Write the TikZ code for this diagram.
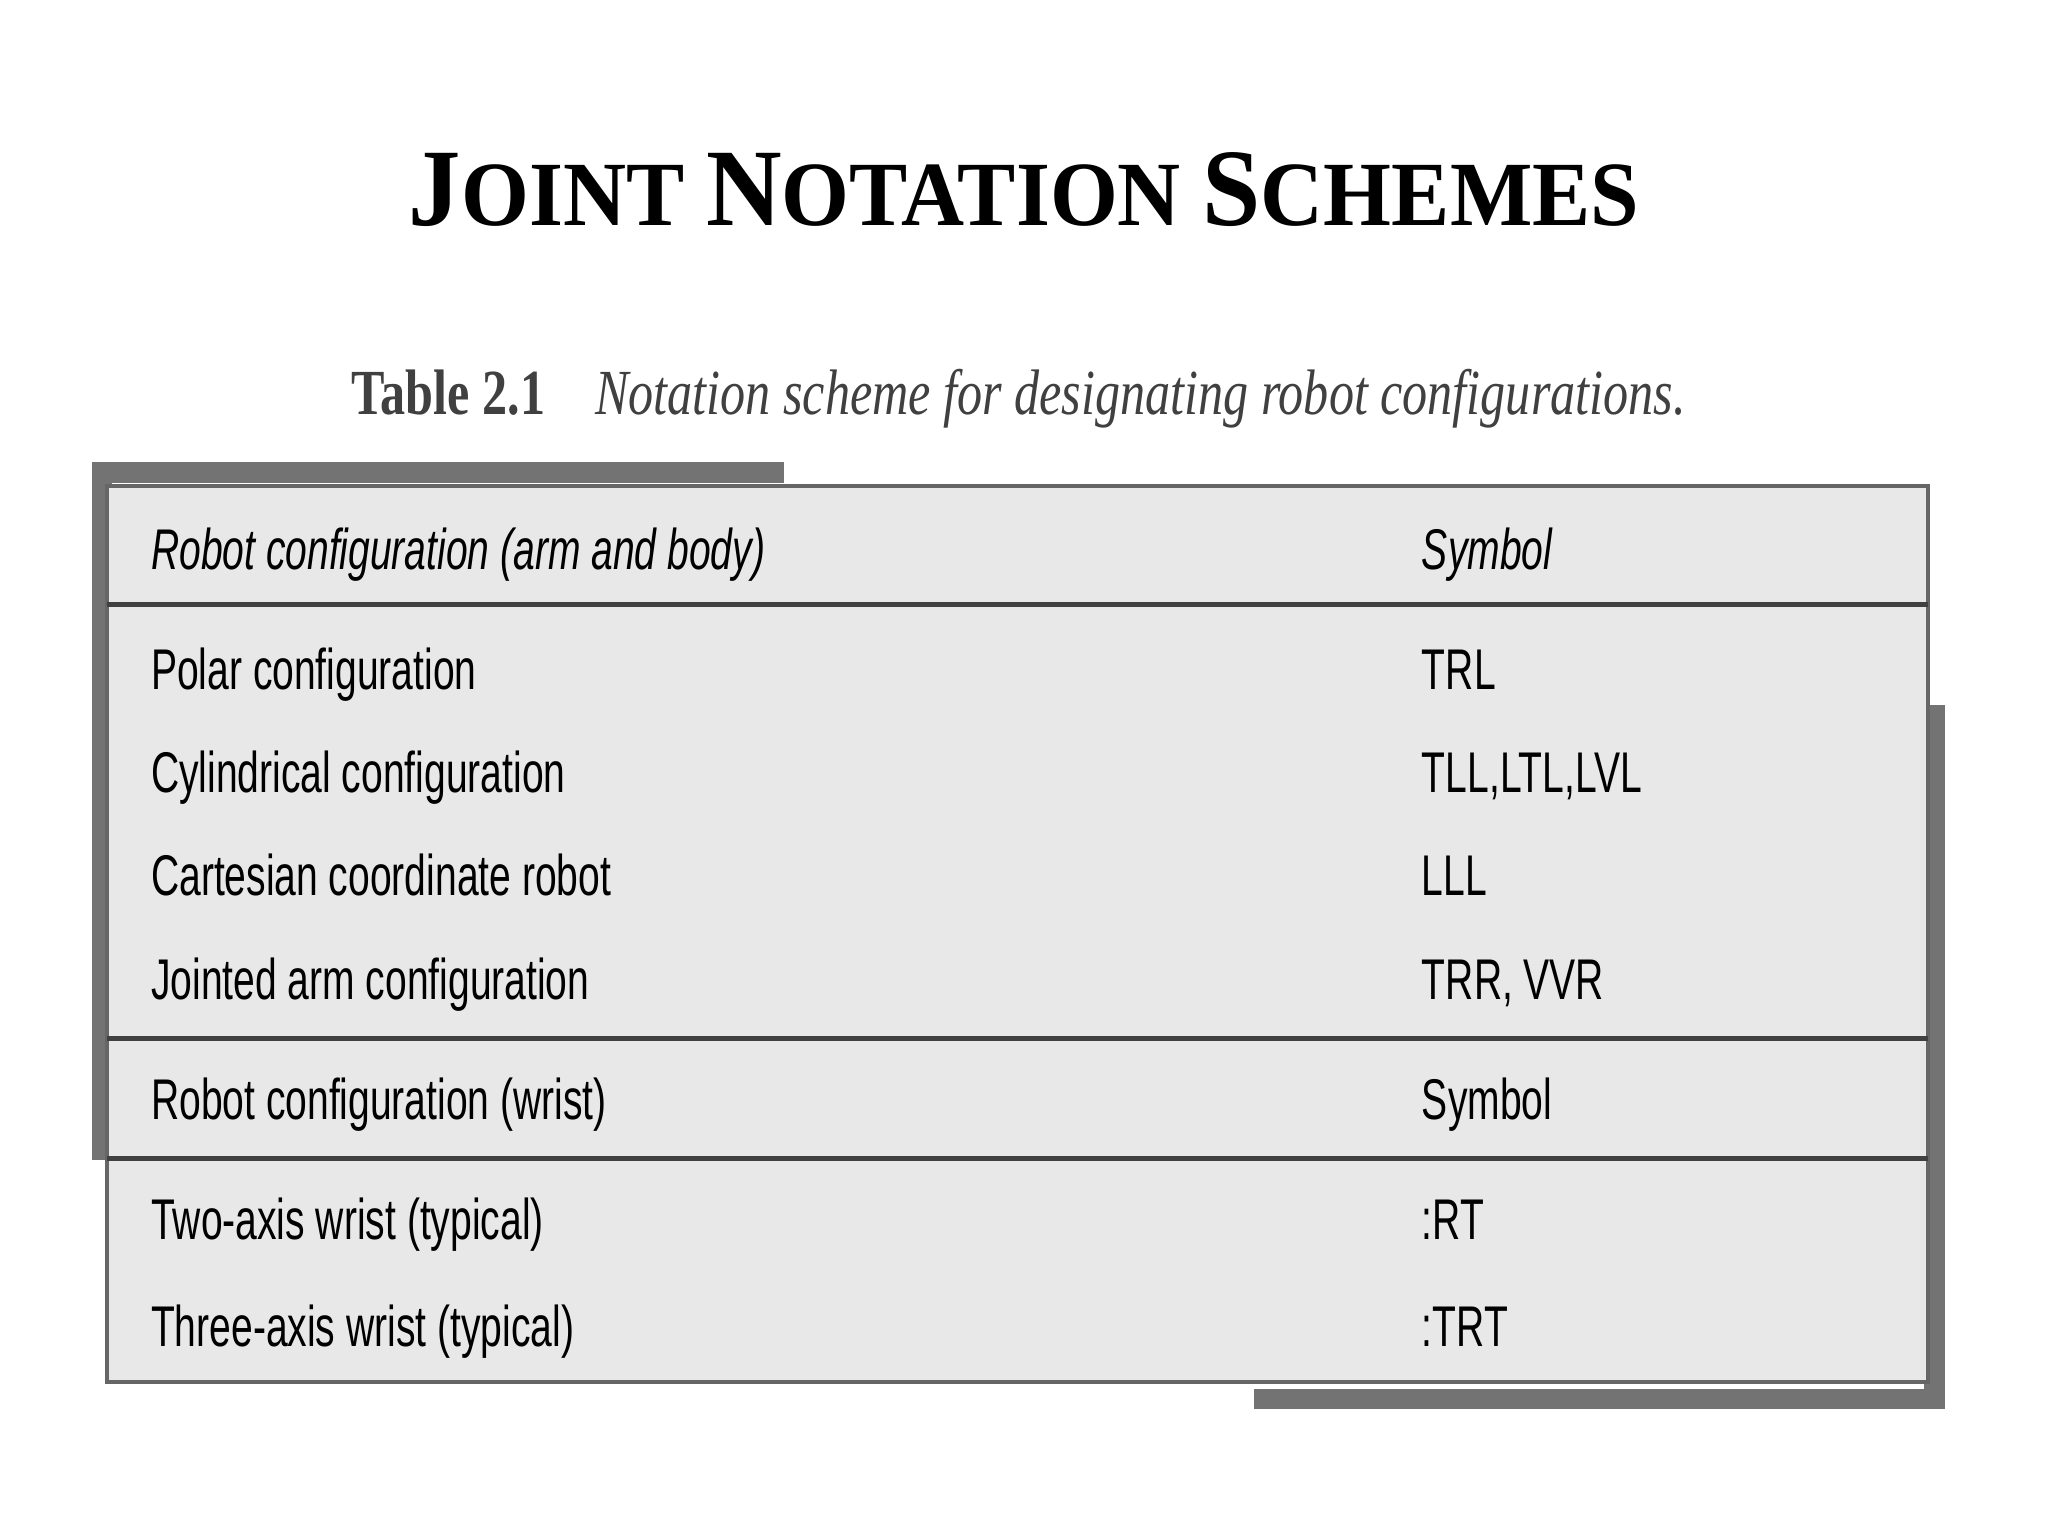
\documentclass[tikz,border=0pt]{standalone}
\usepackage{fontspec}
\setmainfont{Liberation Sans}
\newfontfamily\titlefont{Liberation Serif}
\newcommand{\bigsc}[1]{{\fontsize{24}{28}\selectfont #1}}
\begin{document}
\begin{tikzpicture}[x=0.01cm,y=-0.01cm,
  cell/.style={anchor=base west,inner sep=0pt,font=\fontsize{12.5}{14}\selectfont},
  shade/.style={draw=black!55,line width=4.5pt},
  rule/.style={draw=black!75,line width=1.2pt}]
\useasboundingbox (0,0) rectangle (1568,1176);
\node[font=\titlefont\bfseries\fontsize{20}{24}\selectfont] (title) at (784,145)
  {\scalebox{0.95}[1]{\bigsc{J}OINT \bigsc{N}OTATION \bigsc{S}CHEMES}};
\node[font=\titlefont\fontsize{14}{16}\selectfont,text=black!75] (cap) at (780,305)
  {\scalebox{0.78}[1]{\textbf{Table 2.1}\quad \textit{Notation scheme for designating robot configurations.}}};
% shadows
\draw[shade] (78,888) -- (78,362) -- (600,362);
\draw[shade] (1481,540) -- (1481,1071) -- (960,1071);
% table
\fill[black!9] (82,372) rectangle (1476,1058);
\draw[draw=black!60,line width=1pt] (82,372) rectangle (1476,1058);
\draw[rule] (82,463) -- (1476,463);
\draw[rule] (82,795) -- (1476,795);
\draw[rule] (82,887) -- (1476,887);
\node[cell] (h1) at (115,436) {\scalebox{0.68}[1]{\textit{Robot configuration (arm and body)}}};
\node[cell] (s1) at (1088,436) {\scalebox{0.68}[1]{\textit{Symbol}}};
\node[cell] (r1) at (115,528) {\scalebox{0.68}[1]{Polar configuration}};
\node[cell] (t1) at (1088,528) {\scalebox{0.68}[1]{TRL}};
\node[cell] (r2) at (115,607) {\scalebox{0.68}[1]{Cylindrical configuration}};
\node[cell] (t2) at (1088,607) {\scalebox{0.68}[1]{TLL,LTL,LVL}};
\node[cell] (r3) at (115,686) {\scalebox{0.68}[1]{Cartesian coordinate robot}};
\node[cell] (t3) at (1088,686) {\scalebox{0.68}[1]{LLL}};
\node[cell] (r4) at (115,765) {\scalebox{0.68}[1]{Jointed arm configuration}};
\node[cell] (t4) at (1088,765) {\scalebox{0.68}[1]{TRR, VVR}};
\node[cell] (h2) at (115,857) {\scalebox{0.68}[1]{Robot configuration (wrist)}};
\node[cell] (s2) at (1088,857) {\scalebox{0.68}[1]{Symbol}};
\node[cell] (r5) at (115,949) {\scalebox{0.68}[1]{Two-axis wrist (typical)}};
\node[cell] (t5) at (1088,949) {\scalebox{0.68}[1]{:RT}};
\node[cell] (r6) at (115,1031) {\scalebox{0.68}[1]{Three-axis wrist (typical)}};
\node[cell] (t6) at (1088,1031) {\scalebox{0.68}[1]{:TRT}};
\end{tikzpicture}
\end{document}
